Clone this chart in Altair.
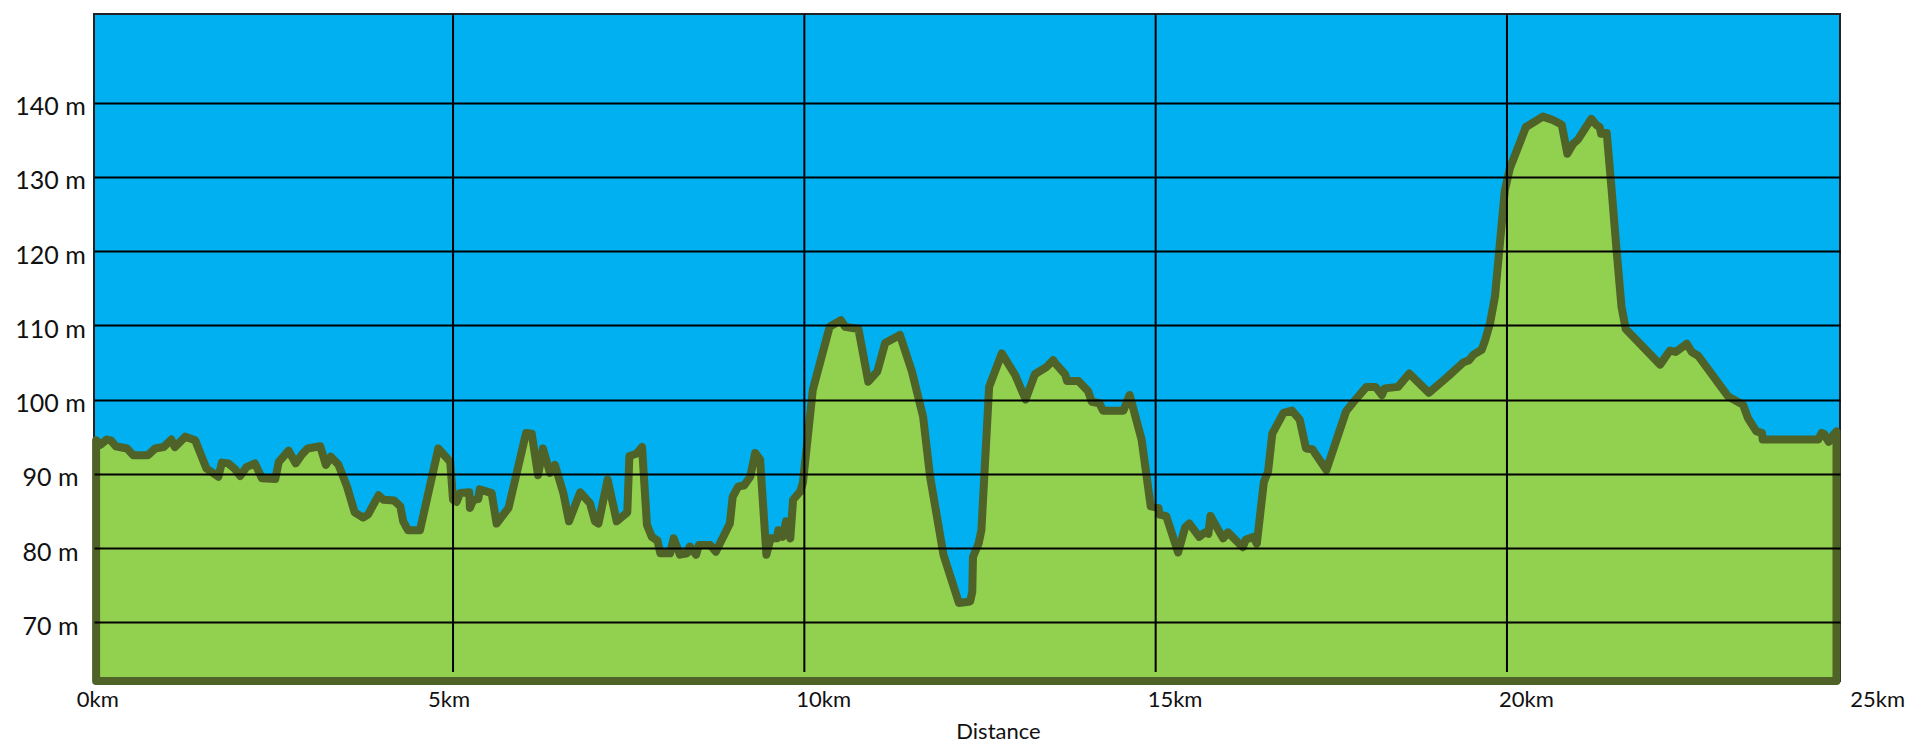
import altair as alt
import pandas as pd

# ---- profile data (distance in km, elevation in m) ----
km_a = [-0.08, -0.02, 0.07, 0.13, 0.20, 0.36, 0.45, 0.66, 0.76, 0.88,
        0.99, 1.04, 1.19, 1.33, 1.49, 1.66, 1.71, 1.80, 1.90, 1.97,
        2.06, 2.18, 2.28, 2.47, 2.52, 2.66, 2.76, 2.85, 2.93, 3.11,
        3.19, 3.26, 3.37, 3.49, 3.60, 3.72, 3.79, 3.94, 4.01, 4.16,
        4.25, 4.29, 4.36, 4.53, 4.79, 4.96]
m_a = [94.5, 93.9, 94.6, 94.5, 93.7, 93.4, 92.5, 92.5, 93.4, 93.6,
       94.6, 93.6, 95.0, 94.5, 90.7, 89.6, 91.5, 91.4, 90.6, 89.7,
       90.9, 91.4, 89.4, 89.3, 91.6, 93.1, 91.4, 92.6, 93.4, 93.7,
       91.2, 92.3, 91.2, 88.3, 84.8, 84.1, 84.5, 87.1, 86.5, 86.4,
       85.6, 83.6, 82.4, 82.4, 93.4, 91.6]

km_b = [5.00, 5.05, 5.10, 5.23, 5.24, 5.29, 5.36, 5.38, 5.55, 5.62,
        5.79, 6.04, 6.12, 6.21, 6.28, 6.38, 6.45, 6.57, 6.65, 6.81,
        6.95, 7.02, 7.07, 7.20, 7.33, 7.48, 7.51, 7.61, 7.69, 7.76,
        7.83, 7.91, 7.95, 8.09, 8.14, 8.23, 8.33, 8.37, 8.46, 8.50,
        8.66, 8.74, 8.94, 8.98, 9.06, 9.14, 9.23, 9.30, 9.37, 9.46,
        9.52, 9.61, 9.63, 9.69, 9.74, 9.80, 9.84, 9.94, 9.98]
m_b = [86.5, 86.2, 87.4, 87.5, 85.4, 86.5, 86.6, 87.9, 87.4, 83.3,
       85.4, 95.5, 95.4, 89.8, 93.4, 90.1, 91.2, 87.4, 83.6, 87.5,
       86.0, 83.6, 83.3, 89.2, 83.6, 84.8, 92.4, 92.7, 93.6, 83.1,
       81.5, 81.0, 79.3, 79.3, 81.3, 79.1, 79.3, 80.2, 79.1, 80.4,
       80.4, 79.5, 83.3, 86.9, 88.3, 88.4, 89.6, 92.8, 91.9, 79.1,
       81.3, 81.3, 82.4, 81.5, 83.6, 81.3, 86.5, 87.6, 88.8]

km_c = [10.12, 10.36, 10.52, 10.58, 10.77, 10.91, 11.04, 11.15, 11.36, 11.53,
        11.69, 11.79, 11.98, 12.20, 12.36, 12.39, 12.40, 12.48, 12.52, 12.63,
        12.81, 13.00, 13.15, 13.28, 13.45, 13.54, 13.57, 13.71, 13.74, 13.90,
        14.04, 14.09, 14.20, 14.25, 14.54, 14.63, 14.80, 14.93]
m_c = [101.3, 109.8, 110.7, 109.8, 109.5, 102.4, 103.8, 107.6, 108.7, 103.8,
       97.7, 89.6, 79.1, 72.6, 72.8, 74.1, 78.8, 80.6, 82.4, 101.7,
       106.2, 103.3, 100.0, 103.4, 104.4, 105.3, 104.9, 103.4, 102.5, 102.5,
       101.1, 99.7, 99.5, 98.5, 98.5, 100.6, 94.6, 85.6]

km_d = [15.04, 15.06, 15.15, 15.32, 15.42, 15.48, 15.62, 15.70, 15.75, 15.78,
        15.96, 16.03, 16.24, 16.28, 16.39, 16.44, 16.54, 16.60, 16.66, 16.82,
        16.94, 17.05, 17.14, 17.23, 17.43, 17.71, 17.81, 18.00, 18.13, 18.22,
        18.26, 18.45, 18.61, 18.89, 19.16, 19.38, 19.46, 19.52, 19.64, 19.69,
        19.76, 19.83, 19.97]
m_d = [85.4, 84.5, 84.3, 79.4, 82.8, 83.3, 81.5, 82.1, 81.9, 84.3,
       81.3, 82.1, 80.1, 81.1, 81.5, 80.6, 88.9, 90.3, 95.4, 98.2,
       98.5, 97.3, 93.4, 93.3, 90.5, 98.4, 99.6, 101.7, 101.7, 100.6,
       101.5, 101.7, 103.5, 100.9, 103.1, 105.0, 105.3, 106.0, 106.7, 108.0,
       110.3, 113.9, 128.2]

km_e = [20.04, 20.27, 20.51, 20.64, 20.78, 20.86, 20.94, 21.01, 21.20, 21.27,
        21.32, 21.34, 21.42, 21.49, 21.56, 21.63, 21.69, 22.18, 22.32, 22.40,
        22.56, 22.63, 22.72, 23.15, 23.36, 23.43, 23.55, 23.63, 23.64, 24.43,
        24.48, 24.51, 24.58, 24.64, 24.69]
m_e = [131.1, 136.7, 138.1, 137.7, 137.0, 133.1, 134.4, 135.0, 137.8, 137.0,
       136.7, 135.8, 135.9, 128.2, 120.1, 112.5, 109.5, 104.7, 106.6, 106.4,
       107.5, 106.4, 105.9, 100.4, 99.3, 97.5, 95.7, 95.5, 94.6, 94.6,
       95.5, 95.4, 94.3, 95.2, 95.7]

# ---- axes ----
grid_km = [5, 10, 15, 20]
tick_km = [0, 5, 10, 15, 20, 25]
tick_text = ["0km", "5km", "10km", "15km", "20km", "25km"]
elev_ticks = [70, 80, 90, 100, 110, 120, 130, 140]

X_DOMAIN = [-0.11, 24.74]
Y_DOMAIN = [62.09, 151.92]
GRID_BOTTOM = 63.3

W, H = 1746, 667

km_all = km_a + km_b + km_c + km_d + km_e
m_all = m_a + m_b + m_c + m_d + m_e
profile = pd.DataFrame({"km": km_all, "elev": m_all})

x_scale = alt.Scale(domain=X_DOMAIN, nice=False, zero=False)
y_scale = alt.Scale(domain=Y_DOMAIN, nice=False, zero=False)

FONT = "Lato"

area = alt.Chart(profile).mark_area(
    fill="#92D050", stroke="#4F6228", strokeWidth=8,
    strokeJoin="round", strokeCap="round", fillOpacity=1, interpolate="linear",
).encode(
    x=alt.X("km:Q", scale=x_scale, axis=alt.Axis(
        title="Distance", labels=False, ticks=False, domain=False, grid=False,
        titleX=904, titleY=57, titleBaseline="alphabetic", titleAlign="center",
        titleFont=FONT, titleFontSize=22, titleFontWeight="normal", titleColor="#111",
    )),
    y=alt.Y("elev:Q", scale=y_scale, axis=alt.Axis(
        values=elev_ticks, labelExpr="datum.value + ' m'", title=None,
        ticks=False, domain=False, grid=True, gridColor="#000", gridWidth=2,
        labelFont=FONT, labelFontSize=25, labelColor="#111",
        labelAlign="center", labelPadding=44, labelBaseline="middle",
        labelOffset=4, zindex=1,
    )),
    y2=alt.datum(Y_DOMAIN[0]),
)

vgrid = alt.Chart(pd.DataFrame({"km": grid_km})).mark_rule(
    color="#000", strokeWidth=2
).encode(
    x=alt.X("km:Q", scale=x_scale),
    y=alt.datum(Y_DOMAIN[1]),
    y2=alt.datum(GRID_BOTTOM),
)

ticks_df = pd.DataFrame({"km": tick_km, "label": tick_text})
lab_base = alt.Chart(ticks_df).encode(
    x=alt.X("km:Q", scale=x_scale),
    y=alt.value(H + 26),
    text="label:N",
)
lab_c = lab_base.transform_filter("datum.km <= 5").mark_text(
    align="center", baseline="alphabetic", dx=-4, font=FONT, fontSize=22, color="#111"
)
lab_l = lab_base.transform_filter("datum.km > 5").mark_text(
    align="left", baseline="alphabetic", dx=-8, font=FONT, fontSize=22, color="#111"
)

chart = alt.layer(area, vgrid, lab_c, lab_l).properties(
    width=W, height=H,
    autosize=alt.AutoSizeParams(type="none"),
    padding={"left": 86, "top": 6, "right": 67, "bottom": 63},
).configure_view(
    fill="#00B0F0", stroke="#222", strokeWidth=2,
)

chart.save("out.html", embed_options={"renderer": "svg", "actions": False})
